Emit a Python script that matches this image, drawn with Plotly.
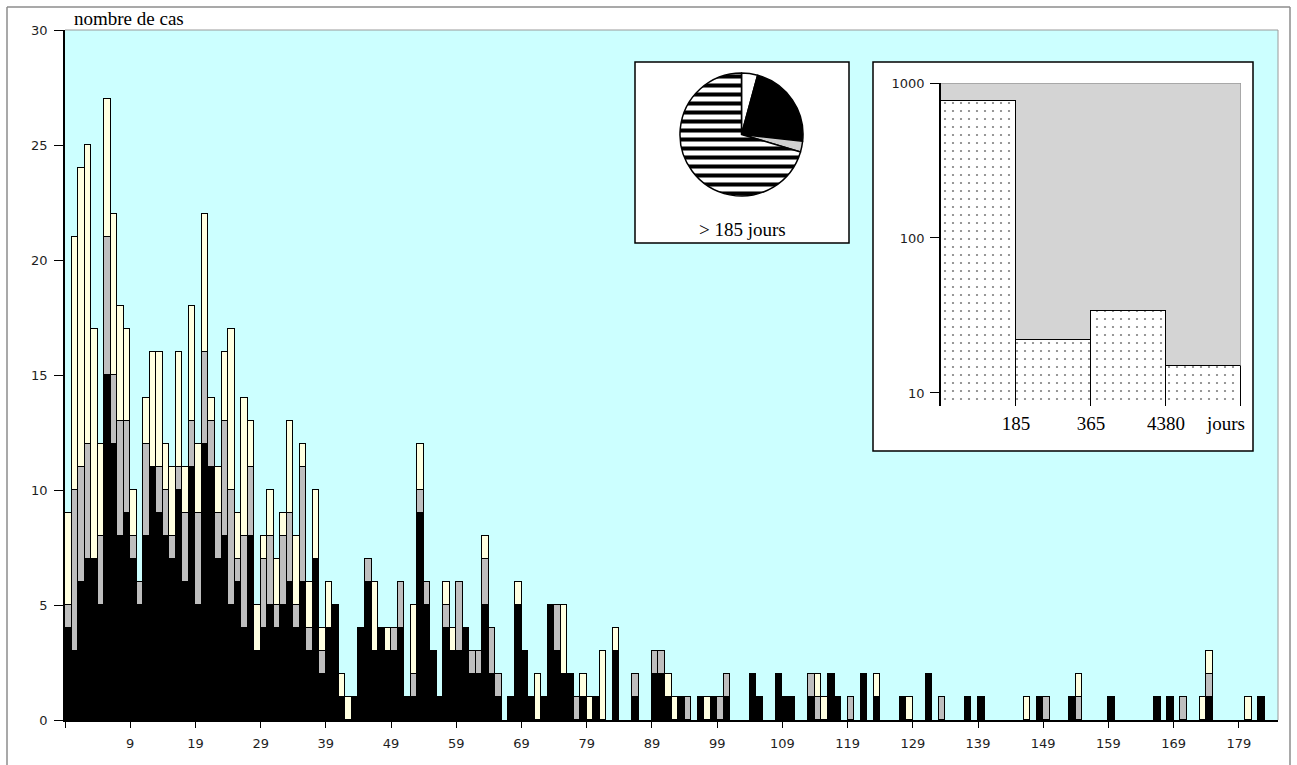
import plotly.graph_objects as go

# ---- daily counts (days since onset), three stacked groups ----
jours = list(range(186))

noirs = [
    4, 3, 6, 7, 7, 5, 15, 12, 8, 9,
    7, 5, 8, 11, 9, 8, 7, 10, 6, 11,
    5, 12, 11, 7, 8, 5, 6, 4, 8, 3,
    4, 5, 4, 5, 6, 4, 6, 3, 7, 2,
    4, 5, 1, 0, 1, 4, 6, 3, 4, 3,
    3, 4, 1, 1, 9, 5, 3, 1, 4, 3,
    3, 4, 2, 2, 5, 2, 1, 0, 1, 5,
    3, 1, 0, 1, 5, 3, 2, 2, 0, 1,
    0, 1, 0, 0, 3, 0, 0, 1, 0, 0,
    2, 2, 1, 0, 1, 0, 0, 1, 0, 1,
    0, 1, 0, 0, 0, 2, 1, 0, 0, 2,
    1, 1, 0, 0, 1, 0, 0, 2, 1, 0,
    0, 0, 2, 0, 1, 0, 0, 0, 1, 0,
    0, 0, 2, 0, 0, 0, 0, 0, 1, 0,
    1, 0, 0, 0, 0, 0, 0, 0, 0, 1,
    0, 0, 0, 0, 1, 0, 0, 0, 0, 0,
    1, 0, 0, 0, 0, 0, 0, 1, 0, 1,
    0, 0, 0, 0, 0, 1, 0, 0, 0, 0,
    0, 0, 0, 1, 0, 0,
]

gris = [
    1, 7, 5, 5, 0, 3, 6, 3, 5, 4,
    1, 1, 4, 0, 2, 2, 1, 1, 3, 2,
    4, 4, 2, 2, 5, 5, 1, 4, 3, 0,
    3, 3, 1, 3, 3, 1, 5, 1, 0, 1,
    0, 0, 0, 0, 0, 0, 1, 0, 0, 0,
    1, 2, 0, 1, 1, 1, 0, 0, 1, 0,
    3, 0, 1, 1, 2, 2, 1, 0, 0, 0,
    0, 0, 0, 0, 0, 2, 0, 0, 1, 0,
    0, 0, 0, 0, 0, 0, 0, 1, 0, 0,
    1, 1, 0, 0, 0, 1, 0, 0, 0, 0,
    1, 1, 0, 0, 0, 0, 0, 0, 0, 0,
    0, 0, 0, 0, 1, 1, 0, 0, 0, 0,
    1, 0, 0, 0, 0, 0, 0, 0, 0, 0,
    0, 0, 0, 0, 1, 0, 0, 0, 0, 0,
    0, 0, 0, 0, 0, 0, 0, 0, 0, 0,
    1, 0, 0, 0, 0, 1, 0, 0, 0, 0,
    0, 0, 0, 0, 0, 0, 0, 0, 0, 0,
    0, 1, 0, 0, 0, 1, 0, 0, 0, 0,
    0, 0, 0, 0, 0, 0,
]

clairs = [
    4, 11, 13, 13, 10, 4, 6, 7, 5, 4,
    2, 0, 2, 5, 5, 2, 3, 5, 2, 5,
    3, 6, 1, 2, 3, 7, 2, 6, 2, 2,
    1, 2, 2, 1, 4, 3, 1, 2, 3, 1,
    2, 0, 1, 1, 0, 0, 0, 3, 0, 1,
    0, 0, 0, 3, 2, 0, 0, 0, 1, 1,
    0, 0, 0, 0, 1, 0, 0, 0, 0, 1,
    0, 0, 2, 0, 0, 0, 3, 0, 0, 1,
    1, 0, 3, 0, 1, 0, 0, 0, 0, 0,
    0, 0, 1, 1, 0, 0, 0, 0, 1, 0,
    0, 0, 0, 0, 0, 0, 0, 0, 0, 0,
    0, 0, 0, 0, 0, 1, 1, 0, 0, 0,
    0, 0, 0, 0, 1, 0, 0, 0, 0, 1,
    0, 0, 0, 0, 0, 0, 0, 0, 0, 0,
    0, 0, 0, 0, 0, 0, 0, 1, 0, 0,
    0, 0, 0, 0, 0, 1, 0, 0, 0, 0,
    0, 0, 0, 0, 0, 0, 0, 0, 0, 0,
    0, 0, 0, 0, 1, 1, 0, 0, 0, 0,
    0, 1, 0, 0, 0, 0,
]

etiquettes_jours = ["9", "19", "29", "39", "49", "59", "69", "79", "89",
                    "99", "109", "119", "129", "139", "149", "159", "169", "179"]
graduations_y = [0, 5, 10, 15, 20, 25, 30]

# ---- inset: cases by duration class (log scale) ----
classes = ["< 185", "185 - 365", "365 - 4380", "> 4380"]
effectifs = [770, 22, 34, 15]
bornes = ["185", "365", "4380"]
graduations_log = [10, 100, 1000]

# ---- inset pie: breakdown of cases beyond 185 days ----
secteurs = ["groupe 1", "groupe 2", "groupe 3", "groupe 4"]
parts = [3, 16, 2, 50]

# ---- page geometry ----
W, H = 1297, 765
ML, MR, MT, MB = 65, 19, 30, 45
PW, PH = W - ML - MR, H - MT - MB


def fx(p):
    return (p - ML) / PW


def fy(p):
    return (H - MB - p) / PH


SERIF = "Liberation Serif"
SANS = "DejaVu Sans"
CYAN = "#CCFFFF"
GRIS_FOND = "#D4D4D4"
TICK_COL = "#1E1E1E"


def segment(vals):
    return [v if v > 0 else None for v in vals]


fig = go.Figure()

for vals, couleur, nom in ((noirs, "#000000", "noir"),
                           (gris, "#BEBEBE", "gris"),
                           (clairs, "#FFFFE0", "clair")):
    fig.add_trace(go.Bar(
        x=jours, y=segment(vals), width=1, name=nom, showlegend=False,
        marker=dict(color=couleur, line=dict(color="black", width=1.5)),
    ))

fig.add_trace(go.Bar(
    x=list(range(len(effectifs))), y=effectifs, width=1,
    xaxis="x2", yaxis="y2", showlegend=False, hovertext=classes,
    marker=dict(color="white", line=dict(color="black", width=1.5),
                pattern=dict(shape=".", fgcolor="black", bgcolor="white",
                             size=8, solidity=0.06)),
))

fig.add_trace(go.Pie(
    labels=secteurs, values=parts, sort=False, direction="clockwise",
    rotation=0, textinfo="none", showlegend=False,
    marker=dict(colors=["white", "black", "#CFCFCF", "white"],
                line=dict(color="black", width=1.5),
                pattern=dict(shape=["", "", "", "-"], fgcolor="black",
                             size=9, solidity=0.45)),
    domain=dict(x=[fx(680), fx(803)], y=[fy(196), fy(73)]),
))

shapes = [
    # main plotting area background
    dict(type="rect", xref="paper", yref="paper", x0=0, x1=1, y0=0, y1=1,
         fillcolor=CYAN, line=dict(width=0), layer="below"),
    # pie panel
    dict(type="rect", xref="paper", yref="paper",
         x0=fx(635), x1=fx(849), y0=fy(243), y1=fy(62),
         fillcolor="white", line=dict(color="black", width=1.5), layer="below"),
    # histogram panel
    dict(type="rect", xref="paper", yref="paper",
         x0=fx(873), x1=fx(1253), y0=fy(451), y1=fy(62),
         fillcolor="white", line=dict(color="black", width=1.5), layer="below"),
    # thin grey edges of the main area
    dict(type="line", xref="paper", yref="paper", x0=0, x1=1, y0=1, y1=1,
         line=dict(color="#9A9A9A", width=1), layer="above"),
    dict(type="line", xref="paper", yref="paper", x0=1, x1=1, y0=0, y1=1,
         line=dict(color="#9A9A9A", width=1), layer="above"),
    # outer frame
    dict(type="line", xref="paper", yref="paper", x0=fx(7), x1=fx(7), y0=fy(770), y1=fy(7),
         line=dict(color="#8C8C8C", width=1.5), layer="below"),
    dict(type="line", xref="paper", yref="paper", x0=fx(7), x1=fx(1290), y0=fy(7), y1=fy(7),
         line=dict(color="#8C8C8C", width=1.5), layer="below"),
    dict(type="line", xref="paper", yref="paper", x0=fx(1290), x1=fx(1290), y0=fy(770), y1=fy(7),
         line=dict(color="#8C8C8C", width=1.5), layer="below"),
    # grey envelope edges in the histogram panel
    dict(type="line", xref="x2", yref="y2", x0=-0.5, x1=len(effectifs) - 0.5,
         y0=graduations_log[-1], y1=graduations_log[-1],
         line=dict(color="#9A9A9A", width=1.5), layer="above"),
    dict(type="line", xref="x2", yref="y2", x0=len(effectifs) - 0.5, x1=len(effectifs) - 0.5,
         y0=effectifs[-1], y1=graduations_log[-1],
         line=dict(color="#9A9A9A", width=1.5), layer="above"),
]

annotations = [
    dict(text="nombre de cas", xref="paper", yref="paper", x=fx(72), y=fy(18),
         xanchor="left", yanchor="middle", showarrow=False,
         font=dict(family=SERIF, size=19, color="black")),
    dict(text="> 185 jours", xref="paper", yref="paper", x=fx(742), y=fy(229),
         xanchor="center", yanchor="middle", showarrow=False,
         font=dict(family=SERIF, size=19, color="black")),
    dict(text="jours", xref="paper", yref="paper", x=fx(1225), y=fy(423),
         xanchor="center", yanchor="middle", showarrow=False,
         font=dict(family=SERIF, size=19, color="black")),
]

fig.update_layout(
    width=W, height=H,
    margin=dict(l=ML, r=MR, t=MT, b=MB, pad=0),
    paper_bgcolor="white",
    plot_bgcolor=GRIS_FOND,
    barmode="stack", bargap=0,
    shapes=shapes, annotations=annotations,
    xaxis=dict(
        domain=[0, 1], range=[-0.5, len(jours) - 0.5],
        tickvals=[-0.5] + [int(t) + 0.5 for t in etiquettes_jours],
        ticktext=[""] + etiquettes_jours,
        ticks="outside", ticklen=6, tickwidth=1, tickcolor="black",
        showline=True, linecolor="black", linewidth=1.5,
        showgrid=False, zeroline=False, ticklabelstandoff=5,
        tickfont=dict(family=SANS, size=13, color=TICK_COL),
    ),
    yaxis=dict(
        domain=[0, 1], range=[0, 30], tickvals=graduations_y,
        ticks="outside", ticklen=9, tickwidth=1, tickcolor="black",
        showline=True, linecolor="black", linewidth=1.5,
        showgrid=False, zeroline=False, ticklabelstandoff=4,
        tickfont=dict(family=SANS, size=13, color=TICK_COL),
    ),
    xaxis2=dict(
        domain=[fx(941), fx(1241)], anchor="y2",
        range=[-0.5, len(effectifs) - 0.5],
        tickvals=[i + 0.5 for i in range(len(bornes))], ticktext=bornes,
        ticks="", showline=False, showgrid=False, zeroline=False,
        ticklabelstandoff=4,
        tickfont=dict(family=SERIF, size=19, color="black"),
    ),
    yaxis2=dict(
        domain=[fy(406), fy(83)], anchor="x2", type="log",
        range=[0.916, 3], tickvals=graduations_log,
        ticktext=[str(v) for v in graduations_log],
        ticks="outside", ticklen=9, tickwidth=1, tickcolor="black",
        showline=True, linecolor="black", linewidth=1.5,
        showgrid=False, zeroline=False, ticklabelstandoff=3,
        tickfont=dict(family=SANS, size=13, color=TICK_COL),
    ),
)

fig.write_html("out.html")
